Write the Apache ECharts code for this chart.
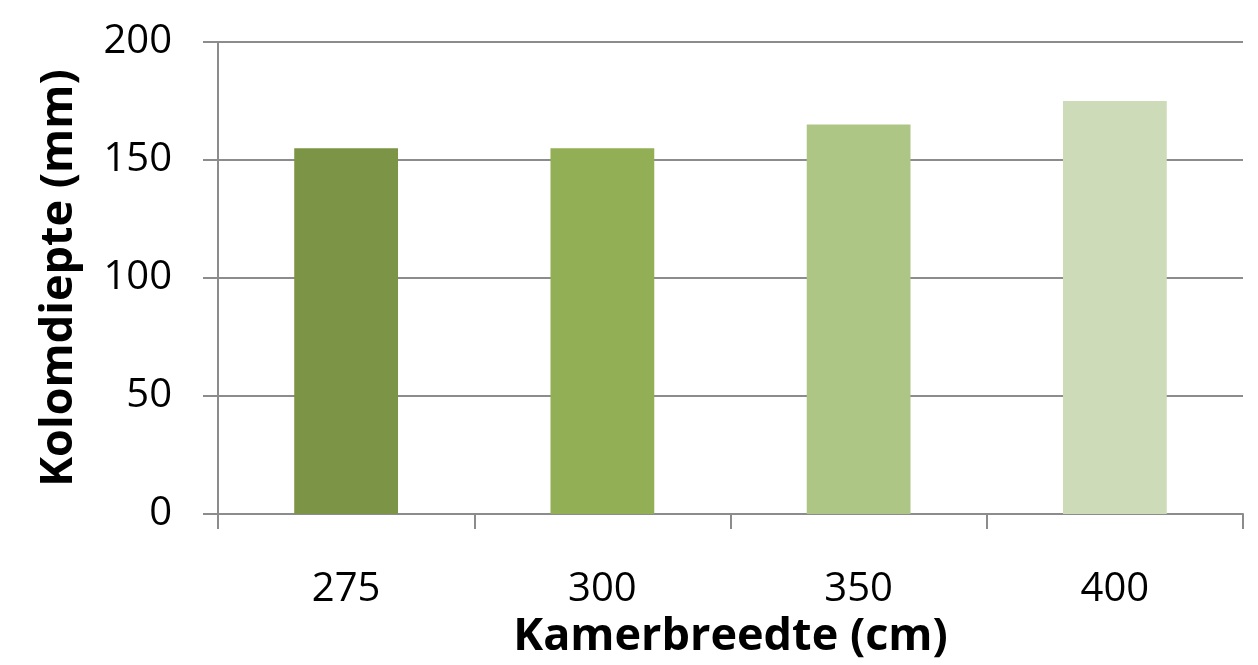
<!DOCTYPE html>
<html><head><meta charset="utf-8">
<script src="https://cdn.jsdelivr.net/npm/echarts@6/dist/echarts.min.js"></script>
<style>html,body{margin:0;padding:0;background:#fff}#c{width:1258px;height:665px}</style>
</head><body><div id="c"></div>
<script>
const categories = ['275', '300', '350', '400'];
const values = [155, 155, 165, 175];
const barColors = ['#7B9445', '#93AF56', '#ADC585', '#CEDBB8'];
const yTicks = [0, 50, 100, 150, 200];
const xTitle = 'Kamerbreedte (cm)';
const yTitle = 'Kolomdiepte (mm)';

const chart = echarts.init(document.getElementById('c'), null, {renderer: 'canvas'});
const font = '"Open Sans", "Liberation Sans", sans-serif';
chart.setOption({
  animation: false,
  backgroundColor: '#fff',
  grid: {left: 218, right: 15, top: 42, bottom: 150, containLabel: false},
  xAxis: {
    type: 'category',
    data: categories,
    name: xTitle,
    nameLocation: 'middle',
    nameGap: 98,
    nameTextStyle: {fontFamily: font, fontSize: 45, fontWeight: 'bold', color: '#000'},
    axisLine: {show: true, lineStyle: {color: '#8c8c8c', width: 2}},
    axisTick: {show: true, length: 15, alignWithLabel: false, lineStyle: {color: '#8c8c8c', width: 2}},
    axisLabel: {margin: 56, fontFamily: font, fontSize: 40, color: '#000'},
    splitLine: {show: false}
  },
  yAxis: {
    type: 'value',
    min: yTicks[0],
    max: yTicks[yTicks.length - 1],
    interval: 50,
    name: yTitle,
    nameLocation: 'middle',
    nameGap: 136,
    nameTextStyle: {fontFamily: font, fontSize: 45, fontWeight: 'bold', color: '#000'},
    axisLine: {show: true, lineStyle: {color: '#8c8c8c', width: 2}},
    axisTick: {show: true, length: 15, lineStyle: {color: '#8c8c8c', width: 2}},
    axisLabel: {margin: 46, fontFamily: font, fontSize: 40, color: '#000'},
    splitLine: {show: true, lineStyle: {color: '#8c8c8c', width: 2}}
  },
  series: [{
    type: 'bar',
    barWidth: '40.5%',
    data: values.map((v, i) => ({value: v, itemStyle: {color: barColors[i]}}))
  }]
});
</script></body></html>
